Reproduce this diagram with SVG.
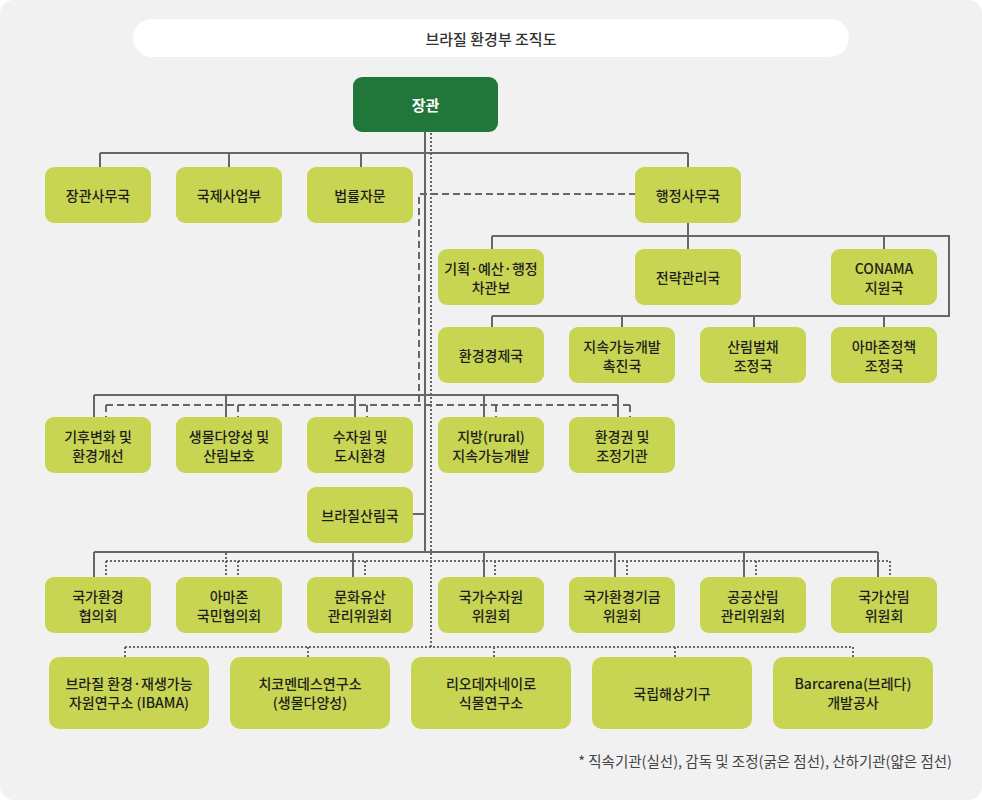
<svg xmlns="http://www.w3.org/2000/svg" width="982" height="800" viewBox="0 0 982 800">
<style>
text{font-family:"Noto Sans CJK KR","Noto Sans",sans-serif;font-size:14px;font-weight:500;fill:#1e1e1e;text-anchor:middle;dominant-baseline:central}
.box{fill:#c8d552}
.solid{fill:none;stroke:#666;stroke-width:2}
.dash{fill:none;stroke:#666;stroke-width:2;stroke-dasharray:7 4}
.dot{fill:none;stroke:#666;stroke-width:2;stroke-dasharray:2 2}
</style>
<rect x="0" y="0" width="982" height="800" fill="#ffffff"/>
<rect x="0" y="0" width="982" height="800" rx="14" fill="#f1f1f1"/>
<g id="title">
<rect x="133" y="19" width="716" height="38" rx="19" fill="#ffffff"/>
<text x="491" y="38" style="font-size:15px;fill:#333">브라질 환경부 조직도</text>
</g>
<g id="connectors">
<path class="solid" d="M425 132V552M100 153H688M100 153V167M229 153V167M361 153V167M688 153V167"/>
<path class="solid" d="M688 222V236M492 236H949V316H492M492 236V249M688 236V249M884 236V249M492 316V327M622 316V327M754 316V327M884 316V327"/>
<path class="solid" d="M94 395H618M94 395V417M226 395V417M355 395V417M484 395V417M618 395V417M413 514H425"/>
<path class="solid" d="M94 552H878M94 552V577M353 552V577M484 552V577M615 552V577M744 552V577M878 552V577"/>
<path class="dash" d="M636 194H419V405M106 405H630M106 405V417M238 405V417M367 405V417M496 405V417M630 405V417"/>
<path class="dot" d="M431 133V647M106 561H890M106 561V577M238 561V577M365 561V577M495 561V577M627 561V577M756 561V577M890 561V577M226 553V577"/>
<path class="dot" d="M125 647H853M125 647V657M308 647V657M494 647V657M675 647V657M853 647V657"/>
</g>
<g id="n-minister"><rect x="353" y="77" width="145" height="55" rx="9" fill="#217639"/><text x="425.5" y="104.5" style="fill:#fff;font-size:15px;font-weight:bold">장관</text></g>
<g id="n-r1a"><rect class="box" x="45" y="167" width="106" height="56" rx="9"/><text x="98" y="195">장관사무국</text></g>
<g id="n-r1b"><rect class="box" x="176" y="167" width="106" height="56" rx="9"/><text x="229" y="195">국제사업부</text></g>
<g id="n-r1c"><rect class="box" x="307" y="167" width="106" height="56" rx="9"/><text x="360" y="195">법률자문</text></g>
<g id="n-r1d"><rect class="box" x="635" y="167" width="106" height="56" rx="9"/><text x="688" y="195">행정사무국</text></g>
<g id="n-r2a"><rect class="box" x="438" y="249" width="106" height="56" rx="9"/><text x="491" y="268">기획·예산·행정</text><text x="491" y="287">차관보</text></g>
<g id="n-r2b"><rect class="box" x="635" y="249" width="106" height="56" rx="9"/><text x="688" y="277">전략관리국</text></g>
<g id="n-r2c"><rect class="box" x="831" y="249" width="106" height="56" rx="9"/><text x="884" y="268">CONAMA</text><text x="884" y="287">지원국</text></g>
<g id="n-r3a"><rect class="box" x="438" y="327" width="106" height="56" rx="9"/><text x="491" y="355">환경경제국</text></g>
<g id="n-r3b"><rect class="box" x="569" y="327" width="106" height="56" rx="9"/><text x="622" y="346">지속가능개발</text><text x="622" y="365">촉진국</text></g>
<g id="n-r3c"><rect class="box" x="700" y="327" width="106" height="56" rx="9"/><text x="753" y="346">산림벌채</text><text x="753" y="365">조정국</text></g>
<g id="n-r3d"><rect class="box" x="831" y="327" width="106" height="56" rx="9"/><text x="884" y="346">아마존정책</text><text x="884" y="365">조정국</text></g>
<g id="n-r4a"><rect class="box" x="45" y="417" width="106" height="56" rx="9"/><text x="98" y="436">기후변화 및</text><text x="98" y="455">환경개선</text></g>
<g id="n-r4b"><rect class="box" x="176" y="417" width="106" height="56" rx="9"/><text x="229" y="436">생물다양성 및</text><text x="229" y="455">산림보호</text></g>
<g id="n-r4c"><rect class="box" x="307" y="417" width="106" height="56" rx="9"/><text x="360" y="436">수자원 및</text><text x="360" y="455">도시환경</text></g>
<g id="n-r4d"><rect class="box" x="438" y="417" width="106" height="56" rx="9"/><text x="491" y="436">지방(rural)</text><text x="491" y="455">지속가능개발</text></g>
<g id="n-r4e"><rect class="box" x="569" y="417" width="106" height="56" rx="9"/><text x="622" y="436">환경권 및</text><text x="622" y="455">조정기관</text></g>
<g id="n-forest"><rect class="box" x="307" y="487" width="106" height="56" rx="9"/><text x="360" y="515">브라질산림국</text></g>
<g id="n-r5a"><rect class="box" x="45" y="577" width="106" height="56" rx="9"/><text x="98" y="596">국가환경</text><text x="98" y="615">협의회</text></g>
<g id="n-r5b"><rect class="box" x="176" y="577" width="106" height="56" rx="9"/><text x="229" y="596">아마존</text><text x="229" y="615">국민협의회</text></g>
<g id="n-r5c"><rect class="box" x="307" y="577" width="106" height="56" rx="9"/><text x="360" y="596">문화유산</text><text x="360" y="615">관리위원회</text></g>
<g id="n-r5d"><rect class="box" x="438" y="577" width="106" height="56" rx="9"/><text x="491" y="596">국가수자원</text><text x="491" y="615">위원회</text></g>
<g id="n-r5e"><rect class="box" x="569" y="577" width="106" height="56" rx="9"/><text x="622" y="596">국가환경기금</text><text x="622" y="615">위원회</text></g>
<g id="n-r5f"><rect class="box" x="700" y="577" width="106" height="56" rx="9"/><text x="753" y="596">공공산림</text><text x="753" y="615">관리위원회</text></g>
<g id="n-r5g"><rect class="box" x="831" y="577" width="106" height="56" rx="9"/><text x="884" y="596">국가산림</text><text x="884" y="615">위원회</text></g>
<g id="n-r6a"><rect class="box" x="49" y="657" width="160" height="72" rx="10"/><text x="129" y="683">브라질 환경·재생가능</text><text x="129" y="702">자원연구소 (IBAMA)</text></g>
<g id="n-r6b"><rect class="box" x="230" y="657" width="160" height="72" rx="10"/><text x="310" y="683">치코멘데스연구소</text><text x="310" y="702">(생물다양성)</text></g>
<g id="n-r6c"><rect class="box" x="411" y="657" width="160" height="72" rx="10"/><text x="491" y="683">리오데자네이로</text><text x="491" y="702">식물연구소</text></g>
<g id="n-r6d"><rect class="box" x="592" y="657" width="160" height="72" rx="10"/><text x="672" y="693">국립해상기구</text></g>
<g id="n-r6e"><rect class="box" x="773" y="657" width="160" height="72" rx="10"/><text x="853" y="683">Barcarena(브레다)</text><text x="853" y="702">개발공사</text></g>
<text x="952" y="760" style="text-anchor:end;font-size:14.5px;font-weight:normal;fill:#444">* 직속기관(실선), 감독 및 조정(굵은 점선), 산하기관(얇은 점선)</text>
</svg>
